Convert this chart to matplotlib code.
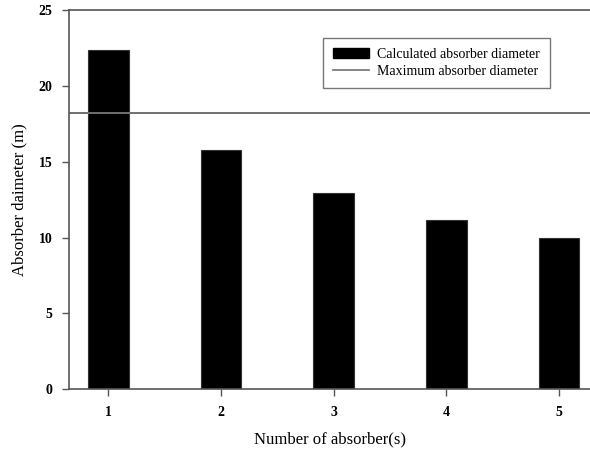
import matplotlib
matplotlib.use("Agg")
import matplotlib.pyplot as plt
from matplotlib.patches import Patch
from matplotlib.lines import Line2D

plt.rcParams['font.family'] = ['Liberation Serif', 'DejaVu Serif']

n_absorbers = [1, 2, 3, 4, 5]
diameters = [22.36, 15.81, 12.91, 11.18, 10.0]
max_diameter = 18.2

fig = plt.figure(figsize=(5.9, 4.5), dpi=100)
ax = fig.add_axes([69/590, 1 - 389/450, 1 - 69/590, (389 - 10.3)/450])

ax.bar(n_absorbers, diameters, width=0.36, color='black', edgecolor='#333333', linewidth=0.8)
ax.axhline(max_diameter, color='#707070', linewidth=1.4)

ax.set_xlim(0.65, 5.275)
ax.set_ylim(0, 25)
ax.set_xticks(n_absorbers)
ax.set_yticks([0, 5, 10, 15, 20, 25])

for s in ['left', 'bottom', 'top']:
    ax.spines[s].set_color('#555555')
    ax.spines[s].set_linewidth(1.2)
ax.spines['right'].set_visible(False)

ax.tick_params(direction='out', length=5, width=1, color='#555555', labelsize=10, pad=7)
for lbl in ax.get_xticklabels() + ax.get_yticklabels():
    lbl.set_fontweight('bold')

ax.set_xlabel('Number of absorber(s)', fontsize=12, labelpad=9)
ax.set_ylabel('Absorber daimeter (m)', fontsize=12, labelpad=8)

handles = [Patch(facecolor='black', edgecolor='black'),
           Line2D([], [], color='#707070', linewidth=1.2)]
leg = ax.legend(handles, ['Calculated absorber diameter', 'Maximum absorber diameter'],
                loc='upper left', bbox_to_anchor=((316 - 69)/521, 1 - (31 - 10.3)/378.7),
                fontsize=10, frameon=True, fancybox=False, handlelength=2.6,
                handletextpad=0.6, borderpad=0.7, labelspacing=0.3)
leg.get_frame().set_edgecolor('#555555')
leg.get_frame().set_linewidth(1.0)

fig.savefig('out.png', dpi=100)
